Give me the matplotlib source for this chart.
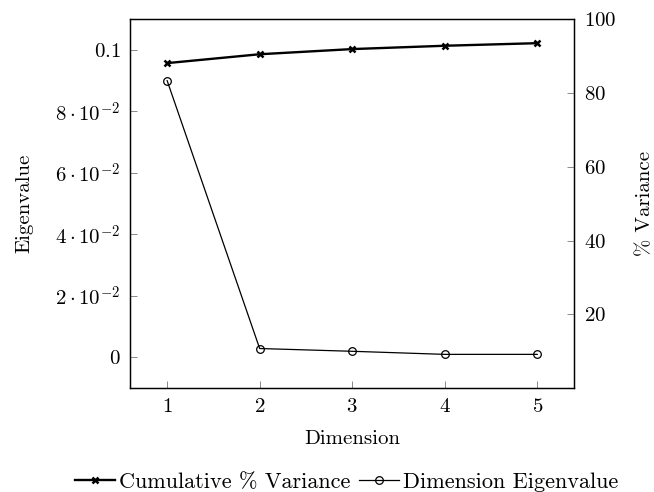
import numpy as np
import matplotlib
matplotlib.use('Agg')
import matplotlib.pyplot as plt
from matplotlib.lines import Line2D

plt.rcParams['font.family'] = 'serif'
plt.rcParams['font.serif'] = ['cmr10', 'DejaVu Serif']
plt.rcParams['mathtext.fontset'] = 'cm'
plt.rcParams['axes.formatter.use_mathtext'] = True
plt.rcParams['axes.unicode_minus'] = False

dimension = [1, 2, 3, 4, 5]
eigenvalue = [0.090, 0.0029, 0.0020, 0.0010, 0.0010]
cumulative = [88.1, 90.5, 91.9, 92.8, 93.5]

eig_ticks = [0, 0.02, 0.04, 0.06, 0.08, 0.1]
eig_labels = [r'$0$', r'$2\cdot10^{-2}$', r'$4\cdot10^{-2}$', r'$6\cdot10^{-2}$',
              r'$8\cdot10^{-2}$', r'$0.1$']
var_ticks = [20, 40, 60, 80, 100]

fs = 15
fig = plt.figure(figsize=(6.54, 4.92), dpi=100)
ax = fig.add_axes([0.199, 0.211, 0.679, 0.750])
ax2 = ax.twinx()

ax.plot(dimension, eigenvalue, color='black', lw=0.9, marker='o',
        mfc='none', ms=5.5, mew=0.9)
ax2.plot(dimension, cumulative, color='black', lw=1.7, marker='x',
         ms=4, mew=1.8)

ax.set_xlim(0.6, 5.4)
ax.set_ylim(-0.01, 0.11)
ax2.set_ylim(0, 100)

ax.set_xticks(dimension)
ax.set_xticklabels([r'$%d$' % d for d in dimension], fontsize=fs)
ax.set_yticks(eig_ticks)
ax.set_yticklabels(eig_labels, fontsize=fs)
ax2.set_yticks(var_ticks)
ax2.set_yticklabels([r'$%d$' % v for v in var_ticks], fontsize=fs)

for a in (ax, ax2):
    a.tick_params(direction='in', length=5, width=0.6, color='#777777', pad=7)
    for s in a.spines.values():
        s.set_linewidth(0.9)

ax.set_xlabel('Dimension', fontsize=fs, labelpad=10)
ax.set_ylabel('Eigenvalue', fontsize=fs, labelpad=16)
ax2.set_ylabel('% Variance', fontsize=fs, labelpad=14)

handles = [
    Line2D([], [], color='black', lw=1.7, marker='x', ms=4, mew=1.8),
    Line2D([], [], color='black', lw=0.9, marker='o', mfc='none', ms=5.5, mew=0.9),
]
fig.legend(handles, ['Cumulative % Variance', 'Dimension Eigenvalue'],
           loc='center', bbox_to_anchor=(0.53, 0.02), ncol=2, frameon=False,
           fontsize=16, handlelength=1.8, handletextpad=0.2, columnspacing=0.35)

fig.savefig('out.png', dpi=100)
